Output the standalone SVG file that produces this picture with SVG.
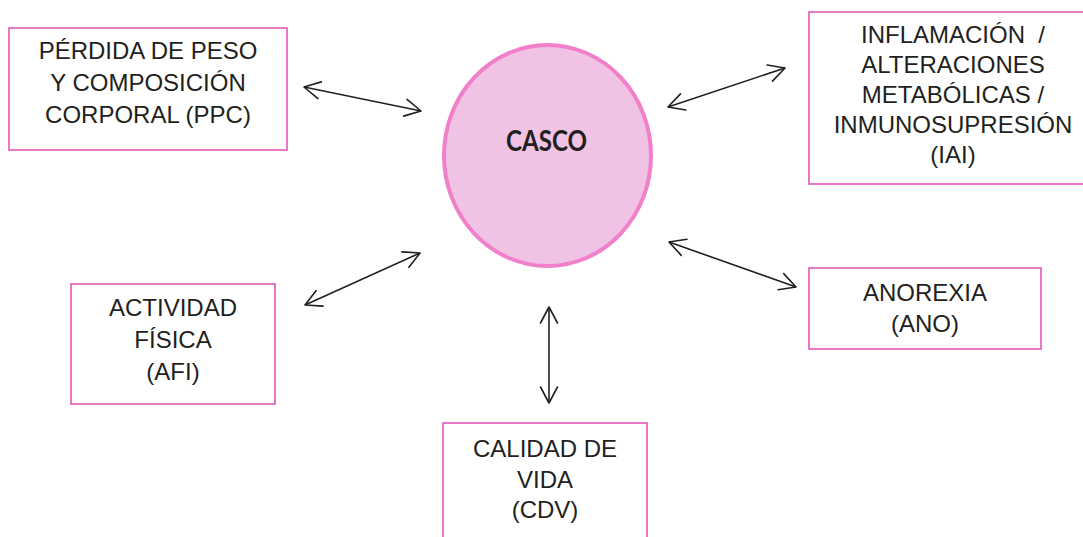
<svg xmlns="http://www.w3.org/2000/svg" width="1083" height="537" viewBox="0 0 1083 537">
  <style>
    .box { fill: #ffffff; stroke: #e04cb4; stroke-width: 1.5; }
    .lbl { font-family: "Liberation Sans", Arial, sans-serif; font-size: 24px; fill: #231f20; text-anchor: middle; white-space: pre; }
    .core { font-family: Lato, "Open Sans", sans-serif; font-weight: bold; font-size: 29px; fill: #231f20; text-anchor: middle; }
    .link { fill: none; stroke: #231f20; stroke-width: 1.6; marker-start: url(#head); marker-end: url(#head); }
  </style>
  <defs>
    <marker id="head" viewBox="-18 -10 20 20" refX="0" refY="0" markerWidth="20" markerHeight="20" markerUnits="userSpaceOnUse" orient="auto-start-reverse">
      <path d="M-16,-8.5 L0,0 L-16,8.5" fill="none" stroke="#231f20" stroke-width="1.6" stroke-linecap="round" stroke-linejoin="round"/>
    </marker>
  </defs>
  <rect width="1083" height="537" fill="#ffffff"/>

  <!-- central node -->
  <g id="casco">
    <ellipse cx="547.5" cy="155.5" rx="103.5" ry="110.5" fill="#f0c2e4" stroke="#f27fc9" stroke-width="4"/>
    <text class="core" x="546.5" y="150.5" textLength="81" lengthAdjust="spacingAndGlyphs">CASCO</text>
  </g>

  <g id="ppc">
    <rect class="box" x="9" y="28" width="278" height="122"/>
    <text class="lbl" x="148" y="59">PÉRDIDA DE PESO</text>
    <text class="lbl" x="148" y="91">Y COMPOSICIÓN</text>
    <text class="lbl" x="148" y="123">CORPORAL (PPC)</text>
  </g>

  <g id="iai">
    <rect class="box" x="809" y="12" width="290" height="172"/>
    <text class="lbl" x="953" y="43">INFLAMACIÓN  /</text>
    <text class="lbl" x="953" y="73">ALTERACIONES</text>
    <text class="lbl" x="953" y="103">METABÓLICAS /</text>
    <text class="lbl" x="953" y="133">INMUNOSUPRESIÓN</text>
    <text class="lbl" x="953" y="163">(IAI)</text>
  </g>

  <g id="afi">
    <rect class="box" x="71" y="284" width="204" height="120"/>
    <text class="lbl" x="173" y="316">ACTIVIDAD</text>
    <text class="lbl" x="173" y="348">FÍSICA</text>
    <text class="lbl" x="173" y="380">(AFI)</text>
  </g>

  <g id="ano">
    <rect class="box" x="809" y="268" width="232" height="81"/>
    <text class="lbl" x="925" y="301">ANOREXIA</text>
    <text class="lbl" x="925" y="332">(ANO)</text>
  </g>

  <g id="cdv">
    <rect class="box" x="443" y="423" width="204" height="130"/>
    <text class="lbl" x="545" y="457">CALIDAD DE</text>
    <text class="lbl" x="545" y="488">VIDA</text>
    <text class="lbl" x="545" y="518">(CDV)</text>
  </g>

  <!-- two-way links between CASCO and each factor -->
  <g id="connectors">
    <line class="link" x1="304" y1="87" x2="421" y2="111"/>
    <line class="link" x1="668" y1="107" x2="785" y2="68"/>
    <line class="link" x1="305" y1="305" x2="420" y2="253"/>
    <line class="link" x1="669" y1="242" x2="796" y2="287"/>
    <line class="link" x1="549" y1="307" x2="549" y2="403"/>
  </g>
</svg>
